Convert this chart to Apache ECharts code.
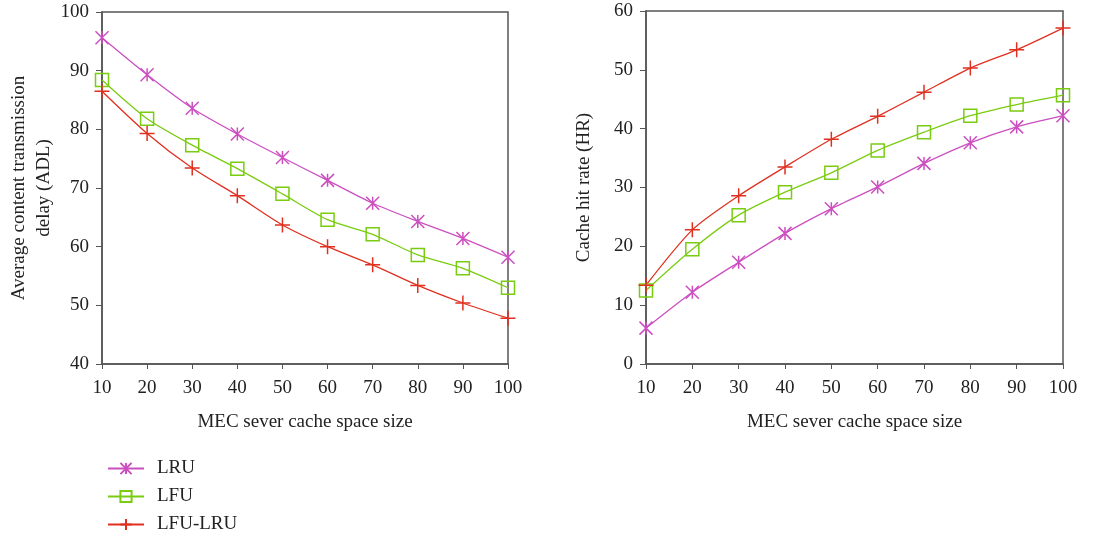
<!DOCTYPE html>
<html><head><meta charset="utf-8">
<script src="https://cdn.jsdelivr.net/npm/echarts@6/dist/echarts.min.js"></script>
<style>html,body{margin:0;padding:0;background:#fff}#c{width:1099px;height:536px}</style>
</head><body><div id="c"></div>
<script>
var xValues = [10, 20, 30, 40, 50, 60, 70, 80, 90, 100];
var adlLRU = [95.6, 89.3, 83.6, 79.2, 75.2, 71.3, 67.4, 64.3, 61.4, 58.2];
var adlLFU = [88.4, 81.8, 77.3, 73.3, 69.0, 64.6, 62.1, 58.6, 56.3, 53.0];
var adlLFULRU = [86.5, 79.3, 73.4, 68.7, 63.7, 60.0, 56.9, 53.4, 50.4, 47.8];
var hrLRU = [6.1, 12.2, 17.3, 22.2, 26.4, 30.1, 34.1, 37.6, 40.3, 42.2];
var hrLFU = [12.5, 19.5, 25.3, 29.2, 32.5, 36.3, 39.4, 42.2, 44.1, 45.7];
var hrLFULRU = [13.4, 22.8, 28.6, 33.5, 38.2, 42.1, 46.2, 50.3, 53.4, 57.1];
var seriesNames = ['LRU', 'LFU', 'LFU-LRU'];

var colors = {'LRU': '#cc4fc0', 'LFU': '#7acc10', 'LFU-LRU': '#e03020'};
var symbols = {
  'LRU': 'path://M0,0L10,10M10,0L0,10M5,0L5,10',
  'LFU': 'path://M0,0L10,0L10,10L0,10Z',
  'LFU-LRU': 'path://M0,5L10,5M5,0L5,10'
};
var sizes = {'LRU': 13, 'LFU': 13, 'LFU-LRU': 15};
var FONT = '"Liberation Serif", "DejaVu Serif", serif';

function pairs(ys) { return xValues.map(function (x, i) { return [x, ys[i]]; }); }
function mk(name, ys, idx) {
  return {
    name: name, type: 'line', xAxisIndex: idx, yAxisIndex: idx,
    data: pairs(ys), smooth: 0.25,
    symbol: symbols[name], symbolSize: sizes[name], showAllSymbol: true,
    lineStyle: {color: colors[name], width: 1.3},
    itemStyle: {color: 'rgba(0,0,0,0)', borderColor: colors[name], borderWidth: 1.5},
    emphasis: {disabled: true}, animation: false, z: 3
  };
}
function xAx(idx) {
  return {
    type: 'value', gridIndex: idx, min: 10, max: 100, interval: 10,
    name: 'MEC sever cache space size', nameLocation: 'middle', nameGap: 49,
    nameMoveOverlap: false,
    nameTextStyle: {fontFamily: FONT, fontSize: 19, color: '#222'},
    axisLine: {lineStyle: {color: '#555', width: 1.5}},
    axisTick: {show: true, inside: false, length: 5, lineStyle: {color: '#555'}},
    axisLabel: {fontFamily: FONT, fontSize: 19, color: '#222', margin: 15},
    splitLine: {show: false}
  };
}
function yAx(idx, min, max, name, gap) {
  return {
    type: 'value', gridIndex: idx, min: min, max: max, interval: 10,
    name: name, nameLocation: 'middle', nameGap: gap, nameRotate: 90,
    nameMoveOverlap: false,
    nameTextStyle: {fontFamily: FONT, fontSize: 19, color: '#222', lineHeight: 25, align: 'center', verticalAlign: 'middle'},
    axisLine: {lineStyle: {color: '#555', width: 1.5}},
    axisTick: {show: true, inside: false, length: 6, lineStyle: {color: '#555'}},
    axisLabel: {fontFamily: FONT, fontSize: 19, color: '#222', margin: 13},
    splitLine: {show: false}
  };
}
var chart = echarts.init(document.getElementById('c'));
chart.setOption({
  backgroundColor: '#fff',
  animation: false,
  grid: [
    {left: 102, top: 12, width: 406, height: 352, show: true, borderColor: '#555', borderWidth: 1.5, backgroundColor: 'transparent', containLabel: false, outerBoundsMode: 'none'},
    {left: 646, top: 11, width: 417, height: 353, show: true, borderColor: '#555', borderWidth: 1.5, backgroundColor: 'transparent', containLabel: false, outerBoundsMode: 'none'}
  ],
  xAxis: [xAx(0), xAx(1)],
  yAxis: [
    yAx(0, 40, 100, 'Average content transmission\ndelay (ADL)', 70),
    yAx(1, 0, 60, 'Cache hit rate (HR)', 62)
  ],
  legend: {
    data: seriesNames, orient: 'vertical', left: 107, top: 459, padding: 0,
    itemWidth: 36, itemHeight: 14, itemGap: 9,
    textStyle: {fontFamily: FONT, fontSize: 19, color: '#222', lineHeight: 19, padding: [0, 0, 0, 8]},
    selectedMode: false
  },
  series: [
    mk('LRU', adlLRU, 0), mk('LFU', adlLFU, 0), mk('LFU-LRU', adlLFULRU, 0),
    mk('LRU', hrLRU, 1), mk('LFU', hrLFU, 1), mk('LFU-LRU', hrLFULRU, 1)
  ]
});
</script></body></html>
